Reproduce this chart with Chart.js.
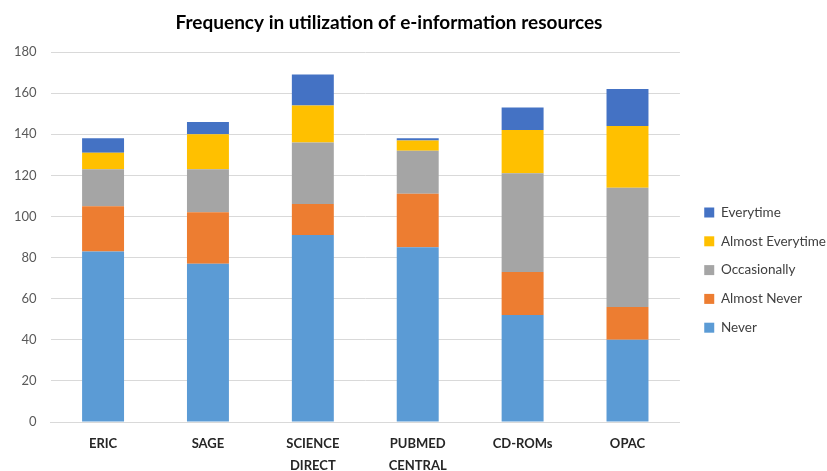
<!DOCTYPE html>
<html>
<head>
<meta charset="utf-8">
<script src="https://cdn.jsdelivr.net/npm/chart.js@4"></script>
<style>
  body { margin: 0; background: #fff; }
  #wrap { width: 827px; height: 471px; }
</style>
</head>
<body>
<div id="wrap"><canvas id="chart" width="827" height="471"></canvas></div>
<script>
const categories = ["ERIC", "SAGE", ["SCIENCE", "DIRECT"], ["PUBMED", "CENTRAL"], "CD-ROMs", "OPAC"];

const never = [83, 77, 91, 85, 52, 40];
const almostNever = [22, 25, 15, 26, 21, 16];
const occasionally = [18, 21, 30, 21, 48, 58];
const almostEverytime = [8, 17, 18, 5, 21, 30];
const everytime = [7, 6, 15, 1, 11, 18];

const yTicks = [0, 20, 40, 60, 80, 100, 120, 140, 160, 180];

const titleText = "Frequency in utilization of e-information resources";
const fontFamily = "Lato, 'Open Sans', sans-serif";

// title drawn by hand so it sits where the original has it
const titlePlugin = {
    id: "fixedTitle",
    afterDraw(chart) {
        const ctx = chart.ctx;
        ctx.save();
        ctx.font = "bold 19px " + fontFamily;
        ctx.fillStyle = "#000";
        ctx.textAlign = "center";
        ctx.textBaseline = "middle";
        ctx.fillText(titleText, 389, 23);
        ctx.restore();
    }
};

// nudge the legend a little to the right without touching the plot area
const legendShift = {
    id: "legendShift",
    afterLayout(chart) {
        if (chart.legend) {
            chart.legend.left += 9;
            chart.legend.right += 9;
        }
    }
};

function ds(label, data, color) {
    return {
        label: label,
        data: data,
        backgroundColor: color,
        borderWidth: 0,
        barPercentage: 0.4,
        categoryPercentage: 1
    };
}

new Chart(document.getElementById("chart"), {
    type: "bar",
    data: {
        labels: categories,
        datasets: [
            ds("Never", never, "#5B9BD5"),
            ds("Almost Never", almostNever, "#ED7D31"),
            ds("Occasionally", occasionally, "#A5A5A5"),
            ds("Almost Everytime", almostEverytime, "#FFC000"),
            ds("Everytime", everytime, "#4472C4")
        ]
    },
    options: {
        responsive: false,
        animation: false,
        layout: { padding: { top: 52, left: 0, right: 0, bottom: 0 } },
        plugins: {
            title: { display: false },
            tooltip: { enabled: false },
            legend: {
                position: "right",
                reverse: true,
                title: { display: true, text: "", font: { size: 1 }, padding: { top: 16, bottom: 0 } },
                labels: {
                    boxWidth: 10,
                    boxHeight: 10,
                    padding: 15.3,
                    color: "#404040",
                    font: { family: fontFamily, size: 13.5 }
                }
            }
        },
        scales: {
            x: {
                stacked: true,
                grid: { display: false, drawTicks: false },
                border: { color: "#D9D9D9" },
                afterFit(scale) { scale.height = 49; },
                ticks: {
                    color: "#262626",
                    padding: 11,
                    maxRotation: 0,
                    autoSkip: false,
                    font: { family: fontFamily, size: 13, weight: "bold", lineHeight: 1.7 }
                }
            },
            y: {
                stacked: true,
                min: 0,
                max: 180,
                afterBuildTicks(axis) {
                    axis.ticks = yTicks.map(v => ({ value: v }));
                },
                grid: { color: "#D9D9D9", drawTicks: false },
                border: { display: false },
                ticks: {
                    color: "#595959",
                    padding: 14,
                    font: { family: fontFamily, size: 13 }
                }
            }
        }
    },
    plugins: [titlePlugin, legendShift]
});
</script>
</body>
</html>
